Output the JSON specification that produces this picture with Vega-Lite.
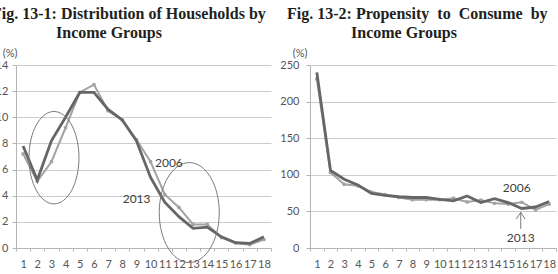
{
  "$schema": "https://vega.github.io/schema/vega-lite/v6.json",
  "background": "white",
  "padding": {"left": -8, "top": 6, "right": 0, "bottom": 0},
  "spacing": 39,
  "bounds": "flush",
  "config": {
    "view": {"stroke": null},
    "font": "Lato",
    "title": {
      "font": "Liberation Serif",
      "fontSize": 16,
      "fontWeight": "bold",
      "color": "#231f20",
      "anchor": "start",
      "frame": "group",
      "lineHeight": 19,
      "offset": 6
    },
    "axis": {
      "labelFont": "Lato",
      "labelFontSize": 11,
      "labelColor": "#555555",
      "labelOverlap": false,
      "labelFlush": false,
      "domainColor": "#b4b4b4",
      "tickColor": "#b4b4b4",
      "gridColor": "#cccccc",
      "titleFont": "Lato",
      "titleFontSize": 11,
      "titleFontWeight": "normal",
      "titleColor": "#555555"
    },
    "axisX": {"tickBand": "extent", "tickSize": 3, "labelPadding": 7, "labelAngle": 0, "grid": false, "title": null},
    "axisY": {"tickSize": 4, "titleAngle": 0, "titleAlign": "right", "titleBaseline": "middle", "titleY": -12}
  },
  "datasets": {
    "households": [
      {"group": 1, "year": 2006, "value": 7.2}, {"group": 1, "year": 2013, "value": 7.8},
      {"group": 2, "year": 2006, "value": 5.1}, {"group": 2, "year": 2013, "value": 5.2},
      {"group": 3, "year": 2006, "value": 6.6}, {"group": 3, "year": 2013, "value": 8.2},
      {"group": 4, "year": 2006, "value": 9.2}, {"group": 4, "year": 2013, "value": 10.0},
      {"group": 5, "year": 2006, "value": 11.9}, {"group": 5, "year": 2013, "value": 11.9},
      {"group": 6, "year": 2006, "value": 12.5}, {"group": 6, "year": 2013, "value": 11.9},
      {"group": 7, "year": 2006, "value": 10.5}, {"group": 7, "year": 2013, "value": 10.6},
      {"group": 8, "year": 2006, "value": 9.8}, {"group": 8, "year": 2013, "value": 9.8},
      {"group": 9, "year": 2006, "value": 8.3}, {"group": 9, "year": 2013, "value": 8.2},
      {"group": 10, "year": 2006, "value": 6.6}, {"group": 10, "year": 2013, "value": 5.4},
      {"group": 11, "year": 2006, "value": 4.1}, {"group": 11, "year": 2013, "value": 3.5},
      {"group": 12, "year": 2006, "value": 3.1}, {"group": 12, "year": 2013, "value": 2.4},
      {"group": 13, "year": 2006, "value": 1.8}, {"group": 13, "year": 2013, "value": 1.5},
      {"group": 14, "year": 2006, "value": 1.8}, {"group": 14, "year": 2013, "value": 1.6},
      {"group": 15, "year": 2006, "value": 0.8}, {"group": 15, "year": 2013, "value": 0.85},
      {"group": 16, "year": 2006, "value": 0.4}, {"group": 16, "year": 2013, "value": 0.4},
      {"group": 17, "year": 2006, "value": 0.25}, {"group": 17, "year": 2013, "value": 0.35},
      {"group": 18, "year": 2006, "value": 0.65}, {"group": 18, "year": 2013, "value": 0.85}
    ],
    "propensity": [
      {"group": 1, "year": 2006, "value": 231}, {"group": 1, "year": 2013, "value": 240},
      {"group": 2, "year": 2006, "value": 103}, {"group": 2, "year": 2013, "value": 106},
      {"group": 3, "year": 2006, "value": 87}, {"group": 3, "year": 2013, "value": 94},
      {"group": 4, "year": 2006, "value": 85}, {"group": 4, "year": 2013, "value": 86},
      {"group": 5, "year": 2006, "value": 76.5}, {"group": 5, "year": 2013, "value": 74.5},
      {"group": 6, "year": 2006, "value": 73}, {"group": 6, "year": 2013, "value": 72},
      {"group": 7, "year": 2006, "value": 69}, {"group": 7, "year": 2013, "value": 70},
      {"group": 8, "year": 2006, "value": 66}, {"group": 8, "year": 2013, "value": 69},
      {"group": 9, "year": 2006, "value": 66}, {"group": 9, "year": 2013, "value": 69},
      {"group": 10, "year": 2006, "value": 66}, {"group": 10, "year": 2013, "value": 66.5},
      {"group": 11, "year": 2006, "value": 68}, {"group": 11, "year": 2013, "value": 64.5},
      {"group": 12, "year": 2006, "value": 63}, {"group": 12, "year": 2013, "value": 71},
      {"group": 13, "year": 2006, "value": 65.5}, {"group": 13, "year": 2013, "value": 62},
      {"group": 14, "year": 2006, "value": 61}, {"group": 14, "year": 2013, "value": 67.5},
      {"group": 15, "year": 2006, "value": 60}, {"group": 15, "year": 2013, "value": 62},
      {"group": 16, "year": 2006, "value": 62.5}, {"group": 16, "year": 2013, "value": 54},
      {"group": 17, "year": 2006, "value": 52}, {"group": 17, "year": 2013, "value": 56},
      {"group": 18, "year": 2006, "value": 60}, {"group": 18, "year": 2013, "value": 63.5}
    ],
    "callouts": [
      {"panel": "households", "at": 10.31, "value": 6.49, "label": "2006"},
      {"panel": "households", "at": 8.03, "value": 3.74, "label": "2013"},
      {"panel": "propensity", "at": 14.61, "value": 81.8, "label": "2006"},
      {"panel": "propensity", "at": 14.9, "value": 13.9, "label": "2013"}
    ],
    "rings": [
      {"ring": "lower", "at": 3.18, "value": 6.91},
      {"ring": "upper", "at": 12.73, "value": 2.71}
    ],
    "pointer": [
      {"at": 15.92, "value": 48.8, "base": 26.1}
    ]
  },
  "hconcat": [
    {
      "width": 255,
      "height": 183,
      "title": {
        "text": ["Fig. 13-1: Distribution of Households by", "\u200b\u00a0\u00a0\u00a0\u00a0\u00a0\u00a0\u00a0\u00a0\u00a0\u00a0\u00a0\u00a0\u00a0\u00a0\u00a0\u00a0Income Groups"],
        "dx": -24
      },
      "encoding": {
        "y": {
          "field": "value", "type": "quantitative", "title": "(%)",
          "scale": {"domain": [0, 14], "nice": false},
          "axis": {"values": [0, 2, 4, 6, 8, 10, 12, 14], "labelPadding": 4, "titleX": 1}
        }
      },
      "layer": [
        {
          "data": {"name": "households"},
          "encoding": {
            "x": {"field": "group", "type": "ordinal", "scale": {"type": "band", "paddingInner": 0, "paddingOuter": 0}}
          },
          "layer": [
            {
              "transform": [{"filter": "datum.year === 2006"}],
              "mark": {"type": "line", "color": "#a3a3a3", "strokeWidth": 2, "point": {"filled": true, "size": 14, "color": "#a3a3a3", "opacity": 1}}
            },
            {
              "transform": [{"filter": "datum.year === 2013"}],
              "mark": {"type": "line", "color": "#666666", "strokeWidth": 2.8}
            }
          ]
        },
        {
          "encoding": {
            "x": {"field": "at", "type": "quantitative", "scale": {"domain": [0.5, 18.5], "nice": false, "zero": false}, "axis": null}
          },
          "layer": [
            {
              "data": {"name": "rings"},
              "transform": [{"filter": "datum.ring === 'lower'"}],
              "mark": {"type": "point", "shape": "M0,-1 A0.541,1 0 1,1 0,1 A0.541,1 0 1,1 0,-1 Z", "size": 8538, "filled": false, "color": "#7a7a7a", "strokeWidth": 1, "opacity": 1}
            },
            {
              "data": {"name": "rings"},
              "transform": [{"filter": "datum.ring === 'upper'"}],
              "mark": {"type": "point", "shape": "M0,-1 A0.6,1 0 1,1 0,1 A0.6,1 0 1,1 0,-1 Z", "size": 10000, "filled": false, "color": "#7a7a7a", "strokeWidth": 1, "opacity": 1}
            },
            {
              "data": {"name": "callouts"},
              "transform": [{"filter": "datum.panel === 'households'"}],
              "mark": {"type": "text", "align": "left", "baseline": "middle", "font": "Lato", "fontSize": 12, "color": "#404040"},
              "encoding": {"text": {"field": "label"}}
            }
          ]
        }
      ],
      "resolve": {"scale": {"x": "independent"}}
    },
    {
      "width": 246,
      "height": 183,
      "title": {
        "text": ["Fig. 13-2: Propensity\u00a0\u00a0to\u00a0\u00a0Consume\u00a0\u00a0by", "\u200b\u00a0\u00a0\u00a0\u00a0\u00a0\u00a0\u00a0\u00a0\u00a0\u00a0\u00a0\u00a0\u00a0\u00a0\u00a0\u00a0Income Groups"],
        "dx": -23
      },
      "encoding": {
        "y": {
          "field": "value", "type": "quantitative", "title": "(%)",
          "scale": {"domain": [0, 250], "nice": false},
          "axis": {"values": [0, 50, 100, 150, 200, 250], "labelPadding": 7, "titleX": -3}
        }
      },
      "layer": [
        {
          "data": {"name": "propensity"},
          "encoding": {
            "x": {"field": "group", "type": "ordinal", "scale": {"type": "band", "paddingInner": 0, "paddingOuter": 0}}
          },
          "layer": [
            {
              "transform": [{"filter": "datum.year === 2006"}],
              "mark": {"type": "line", "color": "#a3a3a3", "strokeWidth": 2, "point": {"filled": true, "size": 14, "color": "#a3a3a3", "opacity": 1}}
            },
            {
              "transform": [{"filter": "datum.year === 2013"}],
              "mark": {"type": "line", "color": "#666666", "strokeWidth": 2.8}
            }
          ]
        },
        {
          "encoding": {
            "x": {"field": "at", "type": "quantitative", "scale": {"domain": [0.5, 18.5], "nice": false, "zero": false}, "axis": null}
          },
          "layer": [
            {
              "data": {"name": "callouts"},
              "transform": [{"filter": "datum.panel === 'propensity'"}],
              "mark": {"type": "text", "align": "left", "baseline": "middle", "font": "Lato", "fontSize": 12, "color": "#404040"},
              "encoding": {"text": {"field": "label"}}
            },
            {
              "data": {"name": "pointer"},
              "mark": {"type": "rule", "color": "#7a7a7a", "strokeWidth": 1},
              "encoding": {"y2": {"field": "base"}}
            },
            {
              "data": {"name": "pointer"},
              "mark": {"type": "point", "shape": "M-1,1.54 L0,0 L1,1.54", "size": 75, "filled": false, "color": "#7a7a7a", "strokeWidth": 1, "opacity": 1}
            }
          ]
        }
      ],
      "resolve": {"scale": {"x": "independent"}}
    }
  ]
}
